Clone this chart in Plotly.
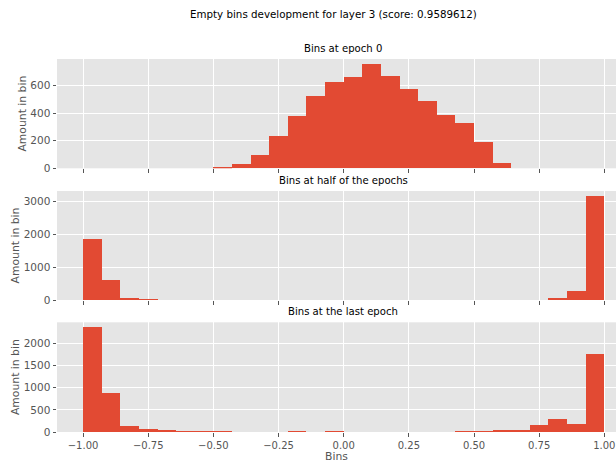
import numpy as np
import plotly.graph_objects as go

# Histogram of weight values in [-1, 1], 28 equal-width bins
n_bins = 28
bin_edges = np.linspace(-1.0, 1.0, n_bins + 1)
bin_centers = (bin_edges[:-1] + bin_edges[1:]) / 2
bin_width = bin_edges[1] - bin_edges[0]

counts_epoch0 = [0, 0, 0, 0, 0, 0, 0, 5, 29, 99, 235, 377, 527, 627,
                 665, 755, 670, 576, 489, 387, 329, 189, 36, 0, 0, 0, 0, 0]
counts_half = [1862, 600, 71, 22, 0, 0, 0, 0, 0, 0, 0, 0, 0, 0,
               0, 0, 0, 0, 0, 0, 0, 0, 0, 0, 0, 50, 264, 3170]
counts_last = [2364, 871, 121, 53, 23, 8, 8, 8, 0, 0, 0, 8, 0, 8,
               0, 0, 0, 0, 0, 0, 8, 8, 20, 45, 144, 295, 167, 1765]

panel_titles = ["Bins at epoch 0", "Bins at half of the epochs", "Bins at the last epoch"]
x_ticks = [-1.0, -0.75, -0.5, -0.25, 0.0, 0.25, 0.5, 0.75, 1.0]
y_dticks = [200, 1000, 500]
suptitle = "Empty bins development for layer 3 (score: 0.9589612)"

BAR = "#E24A33"
BG = "#E5E5E5"
TXT = "#555555"
FONT = "DejaVu Sans"

W, H = 616, 463
M_L, M_R, M_T, M_B = 57, 0, 59, 31
plot_h = H - M_T - M_B

def py(px):
    # pixel row (from top) -> paper y
    return (H - M_B - px) / plot_h

domains = [[py(168.3), 1.0], [py(300.0), py(191.0)], [0.0, py(322.3)]]

fig = go.Figure()
series = [counts_epoch0, counts_half, counts_last]
for i, counts in enumerate(series):
    ax = "" if i == 0 else str(i + 1)
    fig.add_trace(go.Bar(
        x=bin_centers, y=counts, width=bin_width,
        marker=dict(color=BAR, line=dict(width=0)),
        xaxis="x" + ax, yaxis="y" + ax, showlegend=False,
        hoverinfo="x+y",
    ))

layout = dict(
    width=W, height=H,
    margin=dict(l=M_L, r=M_R, t=M_T, b=M_B),
    paper_bgcolor="white", plot_bgcolor=BG,
    font=dict(family=FONT, size=10.5, color=TXT),
    bargap=0,
)

x_range = [-1.1, 1.0448]
for i in range(3):
    ax = "" if i == 0 else str(i + 1)
    layout["xaxis" + ax] = dict(
        domain=[0, 1], range=x_range, anchor="y" + ax,
        tickvals=x_ticks, tickformat=".2f",
        showticklabels=(i == 2),
        ticks="outside", ticklen=3.5, tickcolor=TXT, tickwidth=1,
        showgrid=True, gridcolor="white", gridwidth=1, zeroline=False,
        showline=False,
        tickfont=dict(size=10, color=TXT),
    )
    ymax = max(series[i]) * 1.05
    layout["yaxis" + ax] = dict(
        domain=domains[i], range=[0, ymax], anchor="x" + ax,
        dtick=y_dticks[i], tick0=0,
        ticks="outside", ticklen=3.5, tickcolor=TXT, tickwidth=1,
        showgrid=True, gridcolor="white", gridwidth=1, zeroline=False,
        showline=False,
        tickfont=dict(size=10.5, color=TXT),
        title=dict(text="Amount in bin", font=dict(size=10.8, color=TXT), standoff=1),
    )

layout["xaxis3"]["title"] = dict(text="Bins", font=dict(size=10.8, color=TXT), standoff=1)

annotations = []
# panel titles centred over the full axes width
title_x = (343.3 - M_L) / (W - M_L - M_R)
for i, t in enumerate(panel_titles):
    annotations.append(dict(
        text=t, x=title_x, y=domains[i][1], xref="paper", yref="paper",
        xanchor="center", yanchor="bottom", yshift=3, showarrow=False,
        font=dict(size=10.1, color="black", family=FONT),
    ))
annotations.append(dict(
    text=suptitle, x=(333.7 - M_L) / (W - M_L - M_R), y=py(14),
    xref="paper", yref="paper", xanchor="center", yanchor="middle",
    showarrow=False, font=dict(size=10.3, color="black", family=FONT),
))
layout["annotations"] = annotations

fig.update_layout(**layout)
fig.write_html("out.html")
